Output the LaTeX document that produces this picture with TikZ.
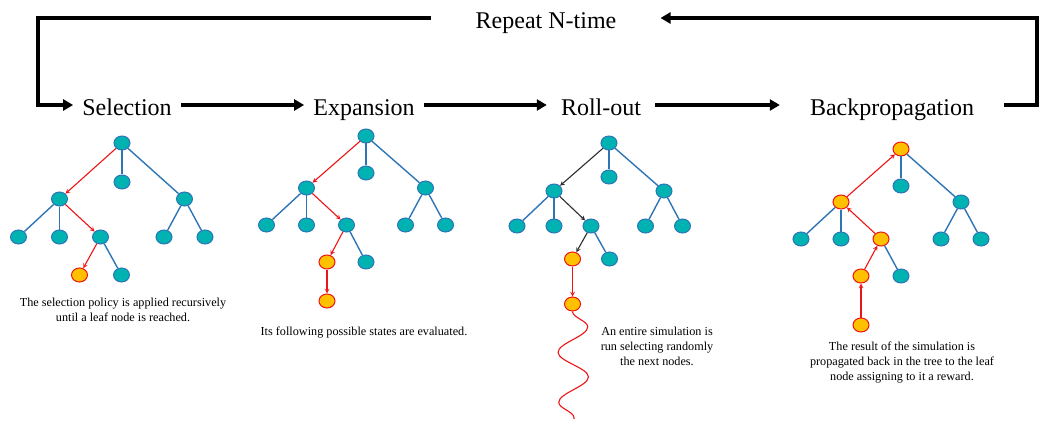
\documentclass[tikz,border=0pt]{standalone}
\usepackage{fontspec}
\setmainfont{Liberation Serif}
\usetikzlibrary{shapes.geometric,arrows.meta,decorations.pathmorphing}
\definecolor{nodefill}{RGB}{0,178,178}
\definecolor{nodeline}{RGB}{46,117,182}
\definecolor{hotfill}{RGB}{255,192,0}
\definecolor{pathred}{RGB}{236,20,20}
\definecolor{pathdark}{RGB}{45,45,45}
\begin{document}
\begin{tikzpicture}[x=1pt, y=-1pt,
          leaf/.style={ellipse, draw=nodeline, fill=nodefill, line width=1pt, minimum width=16pt, minimum height=14pt, inner sep=0pt},
          hot/.style={leaf, draw=pathred, fill=hotfill},
          edge from parent/.style={draw=nodeline, line width=1.4pt},
          selpath/.style={draw=pathred, line width=1.1pt, ->},
          simpath/.style={draw=pathdark, line width=1.1pt, ->},
          backpath/.style={draw=pathred, line width=1.1pt, <-},
          stage/.style={font=\fontsize{24}{28}\selectfont, inner xsep=9pt, inner ysep=0pt, text height=26pt, text depth=4pt},
          flow/.style={line width=3.5pt, -{Triangle[length=10pt,width=11pt]}},
          caption/.style={font=\fontsize{12.2}{15}\selectfont, align=center},
          >=stealth
        ]
        \useasboundingbox (0,0) rectangle (1046,422);

        \node[stage] (sel) at (127,105) {Selection};
        \node[stage] (exp) at (364,105) {Expansion};
        \node[stage, inner xsep=14pt] (roll) at (601,105) {Roll-out};
        \node[stage, inner xsep=30pt] (back) at (892,105) {Backpropagation};
        \node[stage, inner xsep=44pt] (rep) at (546,18) {Repeat N-time};
        \coordinate (loopl) at (38,18);
        \coordinate (loopr) at (1037,18);

        \draw[flow] (sel) -- (exp);
        \draw[flow] (exp) -- (roll);
        \draw[flow] (roll) -- (back);
        \draw[flow] (rep.west) -- (loopl) |- (sel.west);
        \draw[flow] (back.east) -| (loopr) -- (rep.east);

        \begin{scope}[every node/.style={leaf},
          level 1/.style={level distance=56pt, sibling distance=62.5pt},
          level 2/.style={level distance=38pt, sibling distance=41pt},
          level 3/.style={level distance=38pt, sibling distance=42pt}]
        \node (sroot) at (122,143) {}
            child {node {}
              child {node {}}
              child {node {}}
              child {node {}
                child {node[hot] {} edge from parent[selpath]}
                child {node {}}
                edge from parent[selpath]}
              edge from parent[selpath]}
            child {node[yshift=17pt] {}}
            child {node {}
              child {node {}}
              child {node {}}};
        \end{scope}

        \begin{scope}[every node/.style={leaf},
          level 1/.style={level distance=52pt, sibling distance=59.5pt},
          level 2/.style={level distance=37pt, sibling distance=40pt},
          level 3/.style={level distance=37pt, sibling distance=39pt},
          level 4/.style={level distance=39pt}]
        \node (eroot) at (366,136) {}
            child {node {}
              child {node {}}
              child {node {}}
              child {node {}
                child {node[hot] {}
                  child {node[hot] {} edge from parent[selpath]}
                  edge from parent[selpath]}
                child {node {}}
                edge from parent[selpath]}
              edge from parent[selpath]}
            child {node[yshift=15pt] {}}
            child {node {}
              child {node {}}
              child {node {}}};
        \end{scope}

        \begin{scope}[every node/.style={leaf},
          level 1/.style={level distance=48pt, sibling distance=55pt},
          level 2/.style={level distance=35pt, sibling distance=37pt},
          level 3/.style={level distance=33pt, sibling distance=37pt},
          level 4/.style={level distance=45pt}]
        \node (rroot) at (609,143) {}
            child {node {}
              child {node {}}
              child {node {}}
              child {node {}
                child {node[hot] {}
                  child {node[hot] {} edge from parent[selpath]}
                  edge from parent[simpath]}
                child {node {}}
                edge from parent[simpath]}
              edge from parent[simpath]}
            child {node[yshift=14pt] {}}
            child {node {}
              child {node {}}
              child {node {}}};
        \end{scope}
        \coordinate (wend) at (574,419);
        \draw[pathred, line width=1.1pt, decorate, decoration={snake, segment length=50pt, amplitude=15pt}]
            (rroot-1-3-1-1.south) -- (wend);

        \begin{scope}[every node/.style={leaf},
          level 1/.style={level distance=53pt, sibling distance=60pt},
          level 2/.style={level distance=37pt, sibling distance=40pt},
          level 3/.style={level distance=37pt, sibling distance=40pt},
          level 4/.style={level distance=49pt}]
        \node[hot] (broot) at (901,149) {}
            child {node[hot] {}
              child {node {}}
              child {node {}}
              child {node[hot] {}
                child {node[hot] {}
                  child {node[hot] {} edge from parent[backpath]}
                  edge from parent[backpath]}
                child {node {}}
                edge from parent[backpath]}
              edge from parent[backpath]}
            child {node[yshift=16pt] {}}
            child {node {}
              child {node {}}
              child {node {}}};
        \end{scope}

        \node[caption] (cap1) at (123,310) {The selection policy is applied recursively\\until a leaf node is reached.};
        \node[caption] (cap2) at (364,333) {Its following possible states are evaluated.};
        \node[caption] (cap3) at (657,346) {An entire simulation is\\run selecting randomly\\the next nodes.};
        \node[caption] (cap4) at (902,363) {The result of the simulation is\\propagated back in the tree to the leaf\\node assigning to it a reward.};
\end{tikzpicture}
\end{document}
